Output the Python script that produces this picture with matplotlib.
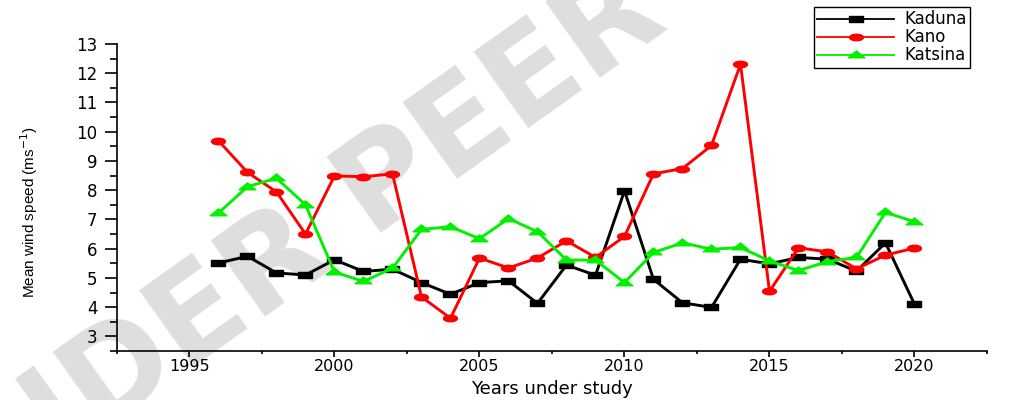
import numpy as np
import matplotlib
matplotlib.use('Agg')
import matplotlib.pyplot as plt
from matplotlib import font_manager
from matplotlib.path import Path
from matplotlib.ticker import MultipleLocator

# mean wind speed per year
years = list(range(1996, 2021))
kaduna = [5.51, 5.74, 5.17, 5.10, 5.62, 5.22, 5.30, 4.84, 4.44, 4.84, 4.90, 4.13, 5.44,
          5.09, 7.98, 4.95, 4.15, 3.99, 5.64, 5.48, 5.70, 5.64, 5.23, 6.20, 4.10]
kano = [9.69, 8.61, 7.94, 6.50, 8.49, 8.46, 8.56, 4.35, 3.62, 5.68, 5.34, 5.68, 6.27,
        5.70, 6.42, 8.56, 8.74, 9.53, 12.31, 4.54, 6.03, 5.89, 5.31, 5.78, 6.02]
katsina = [7.22, 8.12, 8.41, 7.50, 5.20, 4.88, 5.33, 6.66, 6.75, 6.34, 7.03, 6.58, 5.61,
           5.61, 4.84, 5.87, 6.20, 5.98, 6.04, 5.58, 5.25, 5.56, 5.70, 7.24, 6.92]
labels = ['Kaduna', 'Kano', 'Katsina']


def squash(p, sy):
    # flatten a marker path vertically (reference image is stretched sideways)
    return Path(p.vertices * np.array([1.0, sy]), p.codes)


rect = Path(Path.unit_rectangle().vertices - 0.5, Path.unit_rectangle().codes)
m_square = squash(rect, 0.45)
m_circle = squash(Path.unit_circle(), 0.47)
m_tri = squash(Path.unit_regular_polygon(3), 0.475)

installed = {f.name for f in font_manager.fontManager.ttflist}
ylab_font = 'Liberation Sans Narrow' if 'Liberation Sans Narrow' in installed else 'Liberation Sans'

fig = plt.figure(figsize=(10.31, 4), dpi=100)
ax = fig.add_axes([117 / 1031, 49 / 400, 870 / 1031, 307 / 400])
ax.set_facecolor('none')

# watermark
fig.text(-0.071, -0.3925, 'UNDER PEER REVIEW', rotation=35.5, rotation_mode='anchor',
         ha='left', va='baseline', fontsize=92, fontweight='bold', color='#dedede',
         zorder=-1, family='DejaVu Sans')

ax.plot(years, kaduna, color='black', lw=2.1, marker=m_square, ms=9.5, label=labels[0])
ax.plot(years, kano, color='#ff0000', lw=2.1, marker=m_circle, ms=10, label=labels[1])
ax.plot(years, katsina, color='#00f000', lw=2.1, marker=m_tri, ms=12, label=labels[2])

ax.set_xlim(1992.5, 2022.5)
ax.set_ylim(2.5, 13)
ax.xaxis.set_major_locator(MultipleLocator(5))
ax.xaxis.set_minor_locator(MultipleLocator(2.5))
ax.yaxis.set_minor_locator(MultipleLocator(0.5))
ax.set_yticks(range(3, 14))

for s in ['top', 'right']:
    ax.spines[s].set_visible(False)
for s in ['left', 'bottom']:
    ax.spines[s].set_linewidth(1.2)

ax.tick_params(axis='y', which='major', direction='out', length=9, width=1.2, pad=5, labelsize=12)
ax.tick_params(axis='y', which='minor', direction='out', length=5, width=1.2)
ax.tick_params(axis='x', which='major', direction='out', length=4.5, width=1.2, pad=1, labelsize=11.5)
ax.tick_params(axis='x', which='minor', direction='out', length=2.5, width=1.2)

ax.set_xlabel('Years under study', fontsize=13, family='DejaVu Sans')
ax.xaxis.set_label_coords(0.535, 1 - 379.5 / 400, transform=fig.transFigure)
ax.set_ylabel('Mean wind speed (ms$^{-1}$)', fontsize=12.5 if ylab_font.endswith('Narrow') else 11,
              family=ylab_font)
ax.yaxis.set_label_coords(40 / 1031, 1 - 212 / 400, transform=fig.transFigure)

leg = fig.legend(loc='upper left', bbox_to_anchor=(814 / 1031, 1 - 7 / 400),
                 fontsize=12, frameon=True, fancybox=False, framealpha=1,
                 edgecolor='black', handlelength=4.6, handletextpad=0.6,
                 labelspacing=0.0, borderpad=0.2, borderaxespad=0, numpoints=1,
                 handleheight=0.6)
leg.get_frame().set_linewidth(1.0)
for h in leg.legend_handles:
    h.set_linewidth(1.3)

fig.savefig('out.png', dpi=100)
